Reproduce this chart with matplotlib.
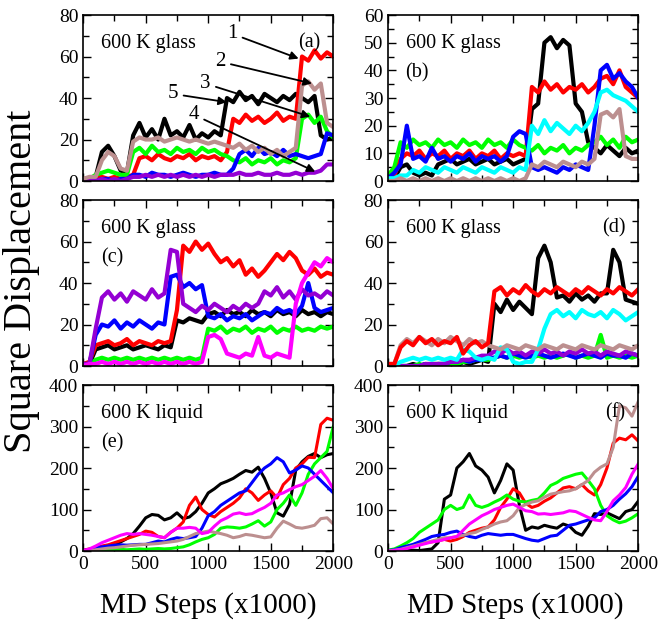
import matplotlib
matplotlib.use('Agg')
import matplotlib.pyplot as plt
from matplotlib.ticker import MultipleLocator

plt.rcParams['font.family'] = ['Liberation Serif', 'DejaVu Serif']

# ── data (MD steps in thousands, every 50) ─────────────────────────────────────
steps = list(range(0, 2001, 50))

# (a) 600 K glass
black_a = [1,1,2,14,17,12,5,4,22,28,21,25,20,30,22,24,21,27,20,23,21,24,22,40,38,43,39,41,37,42,40,38,41,39,42,40,38,41,22,20,21]
red_a = [1,1,2,2,1,2,1,2,3,11,12,10,13,11,10,12,11,13,10,12,11,12,10,14,30,28,32,29,31,28,30,33,29,31,30,60,58,63,59,62,60]
green_a = [1,1,3,4,5,4,3,3,14,16,13,17,14,15,13,16,14,15,13,16,14,15,13,12,10,9,11,8,10,9,11,8,10,9,11,30,32,28,31,24,21]
blue_a = [0,1,0,1,1,0,1,1,3,3,2,4,3,3,2,3,4,3,2,3,3,4,3,3,6,13,15,12,16,13,14,12,15,12,13,12,11,12,13,23,22]
violet_a = [0,0,0,1,0,1,0,1,2,2,3,2,3,2,3,2,3,2,3,2,3,2,3,3,3,4,3,3,4,3,3,4,3,3,4,3,4,4,5,8,8]
brown_a = [1,2,2,10,14,12,6,5,19,21,20,20,21,19,20,21,20,19,20,19,18,19,18,17,16,18,15,17,14,16,13,15,12,14,16,46,48,44,47,28,26]

# (b) 600 K glass
black_b = [1,1,5,6,3,2,3,2,6,7,8,6,7,8,6,7,8,6,7,8,6,7,8,26,28,50,52,48,51,49,28,25,14,12,10,13,11,9,12,10,11]
red_b = [1,2,8,10,9,11,8,10,9,11,8,10,9,11,8,10,9,11,8,10,9,10,9,34,32,36,33,35,32,34,33,35,32,34,37,38,35,40,34,32,30]
green_b = [2,5,14,12,15,13,14,12,15,13,14,12,15,13,14,12,15,13,14,12,15,13,12,11,13,10,12,11,13,10,12,11,13,14,16,13,15,12,16,14,15]
blue_b = [1,3,6,20,8,9,7,12,8,9,7,9,8,10,7,9,8,9,7,9,16,18,17,5,4,5,4,3,5,4,6,5,4,20,40,42,37,39,36,34,30]
cyan_b = [1,1,2,2,4,3,5,4,3,5,4,3,5,4,3,5,4,3,5,4,3,5,4,20,17,22,18,21,19,17,20,18,21,25,32,33,31,30,29,27,25]
brown_b = [0,0,1,0,1,0,1,0,1,0,1,0,1,0,1,0,1,0,1,0,1,0,1,6,5,7,6,5,7,6,5,7,6,8,24,25,23,26,9,8,8]

# (c) 600 K glass
black_c = [1,1,8,9,10,8,9,10,8,9,10,9,8,10,9,22,21,23,22,21,25,26,24,27,25,26,24,27,25,26,24,27,25,26,24,27,25,26,24,26,25]
red_c = [1,2,10,11,12,10,11,13,10,12,11,10,12,11,12,27,58,55,60,56,59,54,50,52,48,51,44,47,43,46,50,54,51,55,52,46,44,47,43,45,44]
green_c = [0,0,3,4,3,4,3,4,3,4,3,4,3,4,3,4,3,4,3,4,18,17,19,16,18,17,19,16,18,17,19,16,18,17,19,17,18,17,19,18,19]
blue_c = [1,1,15,20,19,22,18,21,19,22,20,18,21,20,43,44,38,40,37,39,24,23,25,22,24,23,25,22,24,26,25,28,26,27,25,29,40,28,26,27,28]
violet_c = [1,1,18,33,36,32,35,31,36,34,32,37,33,35,56,55,30,28,26,29,27,30,28,26,29,27,30,28,30,36,34,38,33,36,32,37,34,35,33,36,34]
magenta_c = [0,1,1,2,1,2,1,2,1,2,1,2,1,2,1,2,1,2,1,2,14,15,13,6,5,4,6,5,14,5,4,6,5,4,30,40,45,50,48,52,50]

# (d) 600 K glass
black_d = [0,0,0,0,1,0,1,0,1,0,1,0,2,1,2,3,2,30,26,32,27,31,28,25,52,58,50,33,34,31,35,32,34,31,35,35,56,50,32,31,30]
red_d = [1,1,9,12,10,14,11,13,10,12,11,14,6,10,12,9,11,36,38,34,37,35,39,36,34,37,35,38,36,34,37,35,38,36,34,37,35,38,36,34,37]
green_d = [0,0,0,0,0,1,0,1,1,1,1,1,2,2,3,3,3,4,5,4,5,4,5,4,5,4,5,4,5,6,4,5,4,5,15,4,5,4,5,4,5]
blue_d = [0,0,0,0,0,0,1,0,1,1,2,2,3,2,3,3,4,4,5,4,6,5,4,5,6,5,4,5,6,5,4,5,6,5,4,6,5,5,4,6,5]
violet_d = [0,0,0,0,0,0,1,1,1,1,2,2,3,3,4,5,5,7,6,8,6,7,5,7,6,8,6,7,5,7,6,8,6,7,5,7,6,5,7,6,5]
cyan_d = [0,0,2,3,4,3,4,3,4,3,4,3,8,7,4,3,4,3,9,8,2,1,2,2,8,18,25,27,24,26,23,27,25,24,26,23,27,25,22,24,26]
brown_d = [1,1,10,13,11,14,12,10,13,11,14,12,10,13,11,12,10,9,8,10,9,8,10,9,8,10,9,8,10,9,8,10,9,8,10,9,8,10,9,8,10]

# (e) 600 K liquid
black_e = [0,1,3,5,8,15,22,30,42,60,80,88,86,75,80,92,78,82,95,115,140,150,162,168,175,185,194,190,202,175,140,92,84,112,195,215,228,235,225,232,235]
red_e = [2,5,8,12,15,20,25,30,35,40,48,45,35,32,45,55,70,110,130,100,88,82,95,105,115,128,150,140,122,135,145,128,160,175,200,210,226,225,305,320,315]
green_e = [0,1,2,2,3,3,4,3,4,5,4,5,6,5,6,8,10,15,22,28,32,40,55,58,57,55,58,65,73,60,70,100,115,135,110,140,185,210,225,240,300]
blue_e = [1,4,8,10,12,14,15,14,15,16,16,20,24,22,28,32,30,32,35,55,85,95,110,120,130,140,145,165,185,200,210,225,215,188,195,205,200,185,170,155,140]
magenta_e = [1,5,12,20,26,32,38,42,40,42,40,38,35,32,45,55,55,57,55,42,45,60,73,80,89,92,88,90,98,105,115,135,140,148,155,160,170,180,194,175,150]
brown_e = [0,1,3,5,7,8,10,12,14,15,16,17,18,20,22,24,28,35,42,45,48,45,42,38,32,35,40,38,35,32,34,55,72,65,57,55,58,62,78,80,65]

# (f) 600 K liquid
black_f = [0,0,1,1,2,1,3,5,20,125,135,200,215,235,205,195,178,140,170,210,195,110,50,58,55,62,58,55,65,60,45,38,60,90,88,92,85,78,95,100,120]
red_f = [1,3,6,10,14,18,20,22,25,28,24,28,35,45,50,55,58,75,105,125,150,140,115,105,110,120,128,140,152,155,150,160,145,135,160,200,260,272,268,280,265]
green_f = [2,5,12,20,30,45,55,65,75,100,110,100,105,135,110,105,110,118,125,135,125,120,118,122,125,140,158,165,175,180,185,188,170,150,110,85,75,68,72,80,90]
blue_f = [1,3,8,12,16,22,28,35,38,40,45,48,40,35,32,38,42,40,38,40,40,35,30,26,24,30,36,38,50,62,65,70,75,80,95,100,110,125,138,155,180]
magenta_f = [0,1,3,6,10,14,18,22,24,28,32,35,50,65,75,85,92,100,105,110,113,105,97,95,89,90,88,90,92,97,95,88,81,75,73,95,121,135,153,185,210]
brown_f = [0,2,4,8,12,16,20,24,28,32,32,35,38,42,45,52,58,65,70,73,85,105,112,118,121,130,137,140,143,145,150,160,170,190,202,210,250,350,345,325,360]

# ── figure ─────────────────────────────────────────────────────────────────────
C = {'black': 'black', 'red': '#ff0000', 'green': '#00ff00', 'blue': '#0000ff',
     'violet': '#9400d3', 'cyan': '#00ffff', 'magenta': '#ff00ff', 'brown': '#bc8f8f'}

fig = plt.figure(figsize=(6.6, 6.21), dpi=100)
lefts = [0.126, 0.588]
bottoms = [0.7085, 0.4106, 0.1127]
w, h = 0.379, 0.2673

panels = [
    ('a', [('black', black_a), ('red', red_a), ('green', green_a), ('blue', blue_a), ('violet', violet_a), ('brown', brown_a)], 80, 20, 10),
    ('b', [('black', black_b), ('red', red_b), ('green', green_b), ('blue', blue_b), ('cyan', cyan_b), ('brown', brown_b)], 60, 10, 5),
    ('c', [('black', black_c), ('red', red_c), ('green', green_c), ('blue', blue_c), ('violet', violet_c), ('magenta', magenta_c)], 80, 20, 10),
    ('d', [('black', black_d), ('green', green_d), ('blue', blue_d), ('violet', violet_d), ('cyan', cyan_d), ('brown', brown_d), ('red', red_d)], 80, 20, 10),
    ('e', [('black', black_e), ('red', red_e), ('green', green_e), ('blue', blue_e), ('brown', brown_e), ('magenta', magenta_e)], 400, 100, 50),
    ('f', [('black', black_f), ('red', red_f), ('green', green_f), ('blue', blue_f), ('brown', brown_f), ('magenta', magenta_f)], 400, 100, 50),
]

axes = {}
for i, (tag, series, ymax, major, minor) in enumerate(panels):
    row, col = divmod(i, 2)
    ax = fig.add_axes([lefts[col], bottoms[row], w, h])
    axes[tag] = ax
    lw = 2.2 if row == 2 else 3.0
    for cname, vals in series:
        ax.plot(steps, vals, color=C[cname], lw=lw)
    ax.set_xlim(0, 2000)
    ax.set_ylim(0, ymax)
    ax.xaxis.set_major_locator(MultipleLocator(500))
    ax.xaxis.set_minor_locator(MultipleLocator(250))
    ax.yaxis.set_major_locator(MultipleLocator(major))
    ax.yaxis.set_minor_locator(MultipleLocator(minor))
    ax.tick_params(which='both', direction='in', top=True, right=True, labelsize=14, width=1.0)
    ax.tick_params(which='major', length=6)
    ax.tick_params(which='minor', length=4)
    if row < 2:
        ax.set_xticklabels([])
    for s in ax.spines.values():
        s.set_linewidth(1.2)

    liquid = row == 2
    ax.text(0.07, 0.83, '600 K liquid' if liquid else '600 K glass', transform=ax.transAxes,
            fontsize=14.5, va='center', ha='left')
    if tag in ('a', 'd', 'f'):
        ax.text(0.95, 0.83, '(%s)' % tag, transform=ax.transAxes, fontsize=14.5, va='center', ha='right')
    else:
        ax.text(0.07, 0.65, '(%s)' % tag, transform=ax.transAxes, fontsize=14.5, va='center', ha='left')

# numbered arrows in (a)
arrow_labels = ['1', '2', '3', '5', '4']
label_xy = [(1190, 71), (1096, 57.5), (976, 47), (717, 42), (883, 32)]
target_xy = [(1723, 59), (1829, 47), (1816, 31), (1149, 38), (1856, 4.5)]
for lab, (tx, ty), (hx, hy) in zip(arrow_labels, label_xy, target_xy):
    axes['a'].annotate(lab, xy=(hx, hy), xytext=(tx, ty), fontsize=15, ha='center', va='center',
                       arrowprops=dict(arrowstyle='-|>', color='black', lw=1.3, mutation_scale=12,
                                       shrinkA=2, shrinkB=0))

fig.text(0.032, 0.547, 'Square Displacement', rotation=90, fontsize=29, ha='center', va='center')
fig.text(0.315, 0.025, 'MD Steps (x1000)', fontsize=21, ha='center', va='center')
fig.text(0.78, 0.025, 'MD Steps (x1000)', fontsize=21, ha='center', va='center')

fig.savefig('out.png', dpi=100)
